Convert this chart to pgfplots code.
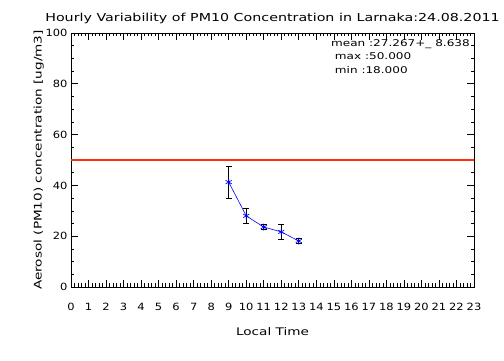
\documentclass[border=0pt]{standalone}
\usepackage{fontspec}
\setmainfont{DejaVu Sans}[FakeStretch=1.12]
\newfontfamily\idl{DejaVu Sans}[FakeStretch=1.3]
\newfontfamily\idltick{DejaVu Sans}[FakeStretch=1.15]
\usepackage{pgfplots}
\pgfplotsset{compat=1.18}
\definecolor{lred}{rgb}{1,0.18,0.05}
\begin{document}
\begin{tikzpicture}
\path[use as bounding box] (-71bp,-74bp) rectangle (433bp,287bp);
\begin{axis}[
  at={(0,0)}, anchor=south west,
  scale only axis, width=403bp, height=254bp,
  xmin=0, xmax=23, ymin=0, ymax=100,
  xtick={0,1,...,23}, ytick={0,20,...,100},
  minor x tick num=4, minor y tick num=3,
  major tick length=7bp, minor tick length=3.5bp,
  tick style={black, line width=0.6pt},
  axis line style={line width=0.8pt},
  /pgf/number format/assume math mode=true,
  ticklabel style={font=\idltick\fontsize{10}{12}\selectfont},
  xticklabel style={yshift=-13bp},
  xlabel={Local Time}, ylabel={Aerosol (PM10) concentration [ug/m3]},
  label style={font=\idl\fontsize{10.5}{12}\selectfont},
  xlabel style={yshift=-10bp},
  ylabel style={yshift=-5bp},
  title={Hourly Variability of PM10 Concentration in Larnaka:24.08.2011},
  title style={font=\idl\fontsize{11}{13}\selectfont, yshift=0bp},
  clip=true,
]
\addplot[lred, line width=2.8bp, forget plot] coordinates {(0,50) (23,50)};
\addplot[blue, line width=0.6pt, mark=asterisk, mark size=3.5bp,
  mark options={blue, line width=0.7pt},
  error bars/.cd, y dir=both, y explicit,
  error bar style={black, line width=0.8pt},
  error mark options={black, rotate=90, mark size=3bp, line width=0.8pt}]
  coordinates {
  (9,41.3) +- (0,6.3)
  (10,28.0) +- (0,2.8)
  (11,23.6) +- (0,1.0)
  (12,21.7) +- (0,3.0)
  (13,18.1) +- (0,1.0)
};
\node[anchor=north east, align=left, font=\idl\fontsize{9.3}{13.5}\selectfont, inner sep=0pt]
  at (rel axis cs:0.99,0.975) {mean :27.267+\_ 8.638\\ \ max :50.000\\ \ min :18.000};
\end{axis}
\end{tikzpicture}
\end{document}
